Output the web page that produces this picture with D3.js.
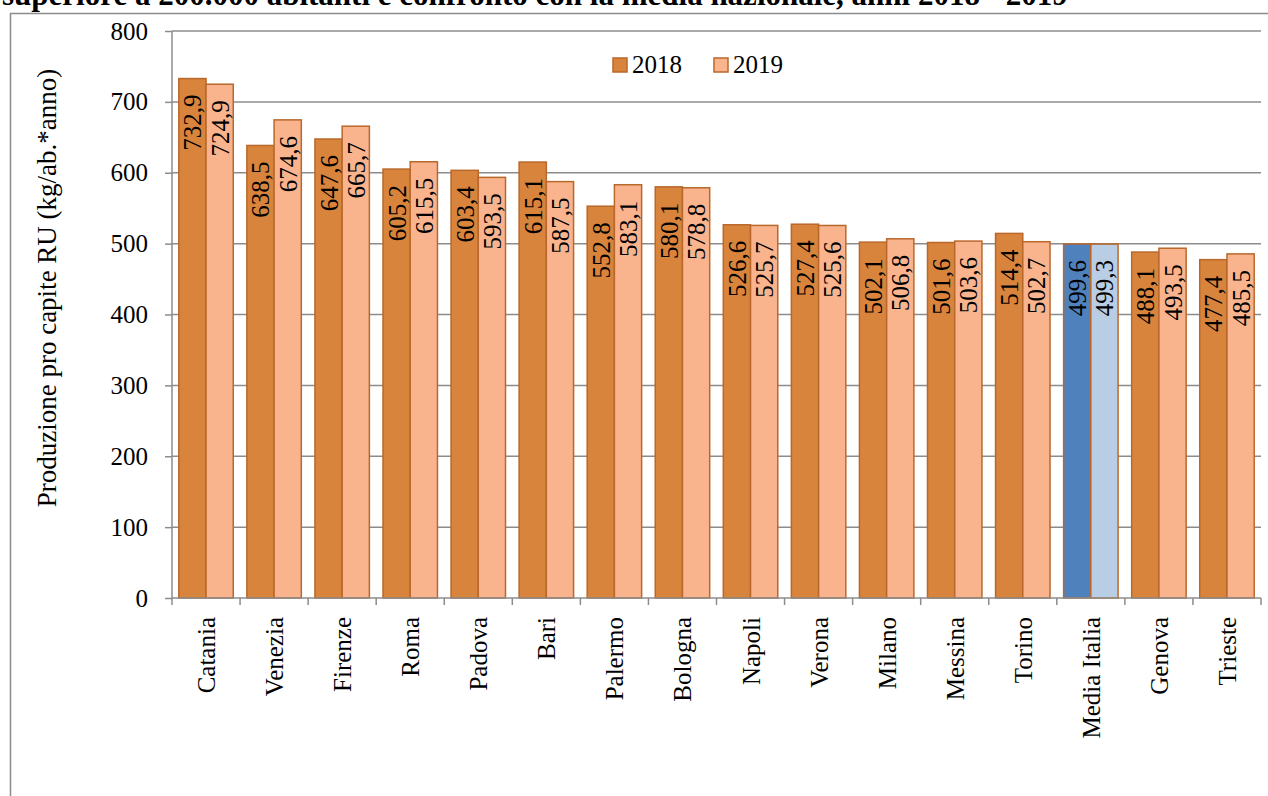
<!DOCTYPE html>
<html><head><meta charset="utf-8">
<script src="https://cdn.jsdelivr.net/npm/d3@7"></script>
<style>body{margin:0;background:#fff;} svg{display:block;font-family:"Liberation Serif","Times New Roman",serif;}</style>
</head><body>
<svg id="c" width="1268" height="796"></svg>
<script>
const categories = ["Catania","Venezia","Firenze","Roma","Padova","Bari","Palermo","Bologna","Napoli","Verona","Milano","Messina","Torino","Media Italia","Genova","Trieste"];
const values2018 = [732.9,638.5,647.6,605.2,603.4,615.1,552.8,580.1,526.6,527.4,502.1,501.6,514.4,499.6,488.1,477.4];
const values2019 = [724.9,674.6,665.7,615.5,593.5,587.5,583.1,578.8,525.7,525.6,506.8,503.6,502.7,499.3,493.5,485.5];
const series = ["2018","2019"];
const yTicks = [0,100,200,300,400,500,600,700,800];
const title = "superiore a 200.000 abitanti e confronto con la media nazionale, anni 2018 - 2019";

const svg = d3.select("#c");
const L=172, R=1261, T=31, B=598;
const FS = 25;
const colors = {"2018":"#D9843D","2019":"#F9B48E"};
const hiColors = {"2018":"#4F81BD","2019":"#B9CDE5"};

svg.append("text").attr("x",2).attr("y",5).attr("font-size",31).attr("font-weight","bold").text(title);
// outer frame
svg.append("path").attr("d",`M10.5,796 V13.5 H1268`).attr("fill","none").attr("stroke","#8c8c8c").attr("stroke-width",1.5);

const x = d3.scaleBand().domain(categories).range([L,R]).paddingInner(0.2).paddingOuter(0.1);
const xb = d3.scaleBand().domain(categories).range([L,R]);
const y = d3.scaleLinear().domain([0,800]).range([B,T]);
const xs = d3.scaleBand().domain(series).range([0,x.bandwidth()]);

// gridlines
svg.append("g").selectAll("line").data(yTicks.filter(d=>d>0)).join("line")
 .attr("x1",L).attr("x2",R).attr("y1",d=>y(d)).attr("y2",d=>y(d)).attr("stroke","#8c8c8c").attr("stroke-width",1.5);

const data = [];
categories.forEach((c,i)=>{data.push({c,s:"2018",v:values2018[i]});data.push({c,s:"2019",v:values2019[i]});});
const fmt = v=>v.toFixed(1).replace(".",",");
const g = svg.append("g");
g.selectAll("rect").data(data).join("rect")
 .attr("x",d=>x(d.c)+xs(d.s)).attr("width",xs.bandwidth())
 .attr("y",d=>y(d.v)).attr("height",d=>B-y(d.v))
 .attr("fill",d=>d.c==="Media Italia"?hiColors[d.s]:colors[d.s])
 .attr("stroke","#B9682B").attr("stroke-width",1.5);
g.selectAll("text").data(data).join("text")
 .attr("transform",d=>`translate(${x(d.c)+xs(d.s)+xs.bandwidth()/2+9},${y(d.v)+16}) rotate(-90)`)
 .attr("text-anchor","end").attr("font-size",FS).attr("fill","#000").text(d=>fmt(d.v));

// y axis
const ya = svg.append("g").attr("transform",`translate(${L},0)`).call(d3.axisLeft(y).tickValues(yTicks).tickSize(7).tickPadding(17));
ya.select(".domain").attr("stroke","#8c8c8c").attr("stroke-width",1.5).attr("d",`M0,${T}V${B}`);
ya.selectAll(".tick line").attr("stroke","#8c8c8c").attr("stroke-width",1.5);
ya.selectAll(".tick text").attr("font-size",FS).attr("font-family","Liberation Serif").attr("fill","#000");

// x axis
const xa = svg.append("g").attr("transform",`translate(0,${B})`);
xa.append("line").attr("x1",L).attr("x2",R).attr("stroke","#8c8c8c").attr("stroke-width",1.5);
xa.selectAll("line.t").data(categories.concat(["_end"])).join("line").attr("class","t")
 .attr("x1",(d,i)=>i<categories.length?xb(d):R).attr("x2",(d,i)=>i<categories.length?xb(d):R)
 .attr("y1",0).attr("y2",7).attr("stroke","#8c8c8c").attr("stroke-width",1.5);
xa.selectAll("text").data(categories).join("text")
 .attr("transform",d=>`translate(${xb(d)+xb.bandwidth()/2+9},19) rotate(-90)`)
 .attr("text-anchor","end").attr("font-size",FS).attr("fill","#000").text(d=>d);

// y label
svg.append("text").attr("transform",`translate(56,288) rotate(-90)`).attr("text-anchor","middle").attr("font-size",27).text("Produzione pro capite RU (kg/ab.*anno)");

// legend
const lg = svg.append("g");
const lx = {"2018":613,"2019":714};
series.forEach(s=>{
 lg.append("rect").attr("x",lx[s]).attr("y",58).attr("width",14).attr("height",14).attr("fill",colors[s]).attr("stroke","#B9682B").attr("stroke-width",1.5);
 lg.append("text").attr("x",lx[s]+19).attr("y",73).attr("font-size",FS).text(s);
});
</script>
</body></html>
